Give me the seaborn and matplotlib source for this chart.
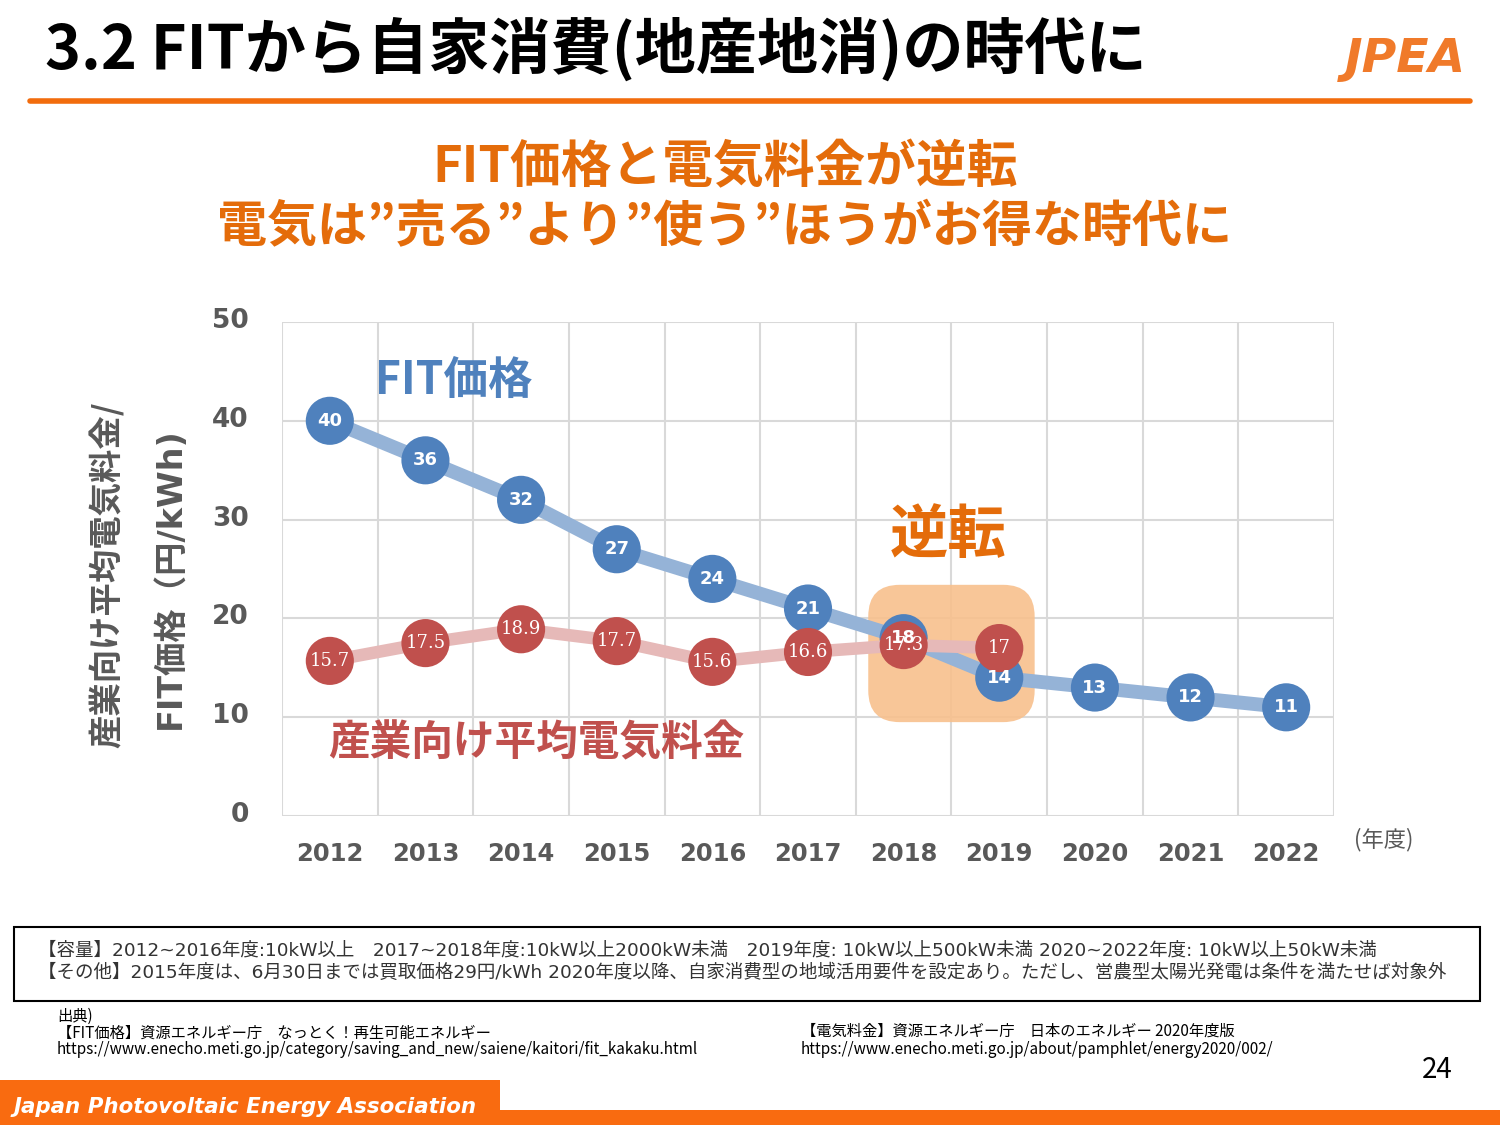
import numpy as np
import pandas as pd
import matplotlib
matplotlib.use('Agg')
import matplotlib.pyplot as plt
import matplotlib.transforms as mtrans
from matplotlib.patches import FancyBboxPatch, Rectangle
from matplotlib.lines import Line2D
import seaborn as sns

# data
years = [2012, 2013, 2014, 2015, 2016, 2017, 2018, 2019, 2020, 2021, 2022]
fit_price = [40, 36, 32, 27, 24, 21, 18, 14, 13, 12, 11]
elec_years = [2012, 2013, 2014, 2015, 2016, 2017, 2018, 2019]
elec_price = [15.7, 17.5, 18.9, 17.7, 15.6, 16.6, 17.3, 17.0]
y_ticks = [0, 10, 20, 30, 40, 50]
reverse_years = [2018, 2019]

title = '3.2 FITから自家消費(地産地消)の時代に'
sub1 = 'FIT価格と電気料金が逆転'
sub2 = '電気は”売る”より”使う”ほうがお得な時代に'
ylab1 = '産業向け平均電気料金/'
ylab2 = 'FIT価格（円/kWh)'
note1 = '【容量】2012~2016年度:10kW以上　2017~2018年度:10kW以上2000kW未満　2019年度: 10kW以上500kW未満 2020~2022年度: 10kW以上50kW未満'
note2 = '【その他】2015年度は、6月30日までは買取価格29円/kWh 2020年度以降、自家消費型の地域活用要件を設定あり。ただし、営農型太陽光発電は条件を満たせば対象外'
src_left = ['出典)', '【FIT価格】資源エネルギー庁　なっとく！再生可能エネルギー',
            'https://www.enecho.meti.go.jp/category/saving_and_new/saiene/kaitori/fit_kakaku.html']
src_right = ['【電気料金】資源エネルギー庁　日本のエネルギー 2020年度版',
             'https://www.enecho.meti.go.jp/about/pamphlet/energy2020/002/']

df_fit = pd.DataFrame({'year': years, 'price': fit_price})
df_elec = pd.DataFrame({'year': elec_years, 'price': elec_price})

sns.set_style('white')
plt.rcParams['font.family'] = ['Noto Sans CJK JP', 'DejaVu Sans']
MIXED = ['DejaVu Sans', 'Noto Sans CJK JP']

BLUE = '#4f81bd'
BLUE_L = '#95b3d7'
RED = '#c0504d'
RED_L = '#e6b9b8'
ORANGE = '#e46c0a'
GRAY = '#595959'
BAR = '#f96b10'

fig = plt.figure(figsize=(15, 11.25), dpi=100)
ax = fig.add_axes([282/1500, 1-816/1125, (1334-282)/1500, (816-322)/1125])

# lines and markers
sns.lineplot(data=df_fit, x='year', y='price', color=BLUE_L, linewidth=10, ax=ax, zorder=3)
sns.scatterplot(data=df_fit, x='year', y='price', color=BLUE, s=1200, edgecolor='none', ax=ax, zorder=4)
sns.lineplot(data=df_elec, x='year', y='price', color=RED_L, linewidth=9, ax=ax, zorder=5)
sns.scatterplot(data=df_elec, x='year', y='price', color=RED, s=1200, edgecolor='none', ax=ax, zorder=6)

for x, v in zip(years, fit_price):
    ax.text(x, v, f'{v:g}', ha='center', va='center', color='white',
            fontsize=13, fontweight='bold', family='DejaVu Sans', zorder=8)
for x, v in zip(elec_years, elec_price):
    ax.text(x, v, f'{v:g}', ha='center', va='center', color='white',
            fontsize=13, family='DejaVu Serif', zorder=7)

# highlight box
x0 = min(reverse_years) - 0.37
w = max(reverse_years) - min(reverse_years) + 0.74
box = FancyBboxPatch((x0, 9.5), w, 13.9, boxstyle='round,pad=0,rounding_size=0.33',
                     mutation_aspect=9.7, facecolor='#f8c08d', edgecolor='none',
                     alpha=0.9, zorder=2)
ax.add_patch(box)

ax.text(2018.46, 28.3, '逆転', color=ORANGE, fontsize=42, fontweight='bold',
        ha='center', va='center')
ax.text(2013.3, 44, 'FIT価格', color=BLUE, fontsize=32, fontweight='bold',
        ha='center', va='center')
ax.text(2014.16, 7.3, '産業向け平均電気料金', color=RED, fontsize=30, fontweight='bold',
        ha='center', va='center')

ax.set_xlim(years[0] - 0.5, years[-1] + 0.5)
ax.set_ylim(0, 50)
ax.set_xticks(years)
ax.set_xticks([y + 0.5 for y in [years[0] - 1] + years], minor=True)
ax.set_yticks(y_ticks)
ax.grid(False)
ax.grid(True, axis='x', which='minor', color='#d9d9d9', lw=1.5, zorder=0)
ax.grid(True, axis='y', which='major', color='#d9d9d9', lw=1.5, zorder=0)
ax.set_axisbelow(True)
for s in ax.spines.values():
    s.set_visible(False)
ax.tick_params(axis='both', which='both', length=0)
ax.tick_params(axis='x', pad=19)
ax.tick_params(axis='y', pad=24)
shift_up = mtrans.ScaledTranslation(0, 4/100, fig.dpi_scale_trans)
for lab in ax.get_xticklabels():
    lab.set_fontweight('bold')
    lab.set_color(GRAY)
    lab.set_fontsize(17.5)
    lab.set_family('DejaVu Sans')
for lab in ax.get_yticklabels():
    lab.set_fontweight('bold')
    lab.set_color(GRAY)
    lab.set_fontsize(19)
    lab.set_family('DejaVu Sans')
    lab.set_transform(lab.get_transform() + shift_up)
ax.set_xlabel('')
ax.set_ylabel('')

fig.text(1384/1500, 1-840/1125, '(年度)', color=GRAY, fontsize=16, ha='center', va='center')
fig.text(107/1500, 1-575/1125, ylab1, color=GRAY, fontsize=24, fontweight='bold',
         rotation=90, ha='center', va='center')
fig.text(170/1500, 1-578/1125, ylab2, color=GRAY, fontsize=24, fontweight='bold',
         rotation=90, ha='center', va='center', family=MIXED)

# header
fig.text(45/1500, 1-50/1125, title, fontsize=44, fontweight='bold', color='black',
         ha='left', va='center')
fig.add_artist(Line2D([30/1500, 1470/1500], [1-101/1125]*2, lw=4, color='#f26c0d'))
fig.text(1405/1500, 1-60/1125, 'JPEA', fontsize=34, fontweight='bold', style='italic',
         color='#f07a2a', ha='center', va='center', family='DejaVu Sans')
fig.text(725/1500, 1-168/1125, sub1, fontsize=36.5, fontweight='bold', color=ORANGE,
         ha='center', va='center')
fig.text(725/1500, 1-228/1125, sub2, fontsize=36, fontweight='bold', color=ORANGE,
         ha='center', va='center')

# notes
fig.add_artist(Rectangle((14/1500, 1-1001/1125), 1466/1500, 74/1125, fill=False,
                         edgecolor='black', lw=1.5))
fig.text(38/1500, 1-951/1125, note1, fontsize=13.3, color='#333333', va='center', family=MIXED)
fig.text(38/1500, 1-973/1125, note2, fontsize=13.3, color='#333333', va='center', family=MIXED)
for i, t in enumerate(src_left):
    fig.text(57/1500, 1-(1016 + 17*i)/1125, t, fontsize=11, color='black', va='center')
for i, t in enumerate(src_right):
    fig.text(801/1500, 1-(1031 + 18*i)/1125, t, fontsize=11, color='black', va='center')
fig.text(1437/1500, 1-1070/1125, '24', fontsize=20, color='black', ha='center', va='center')

# footer
fig.add_artist(Rectangle((0, 0), 1, 15/1125, facecolor=BAR, edgecolor='none'))
fig.add_artist(Rectangle((0, 0), 500/1500, 45/1125, facecolor=BAR, edgecolor='none'))
fig.text(14/1500, 1-1107/1125, 'Japan Photovoltaic Energy Association', fontsize=15.4,
         fontweight='bold', style='italic', color='white', va='center', family='DejaVu Sans')

fig.savefig('out.png', dpi=100)
